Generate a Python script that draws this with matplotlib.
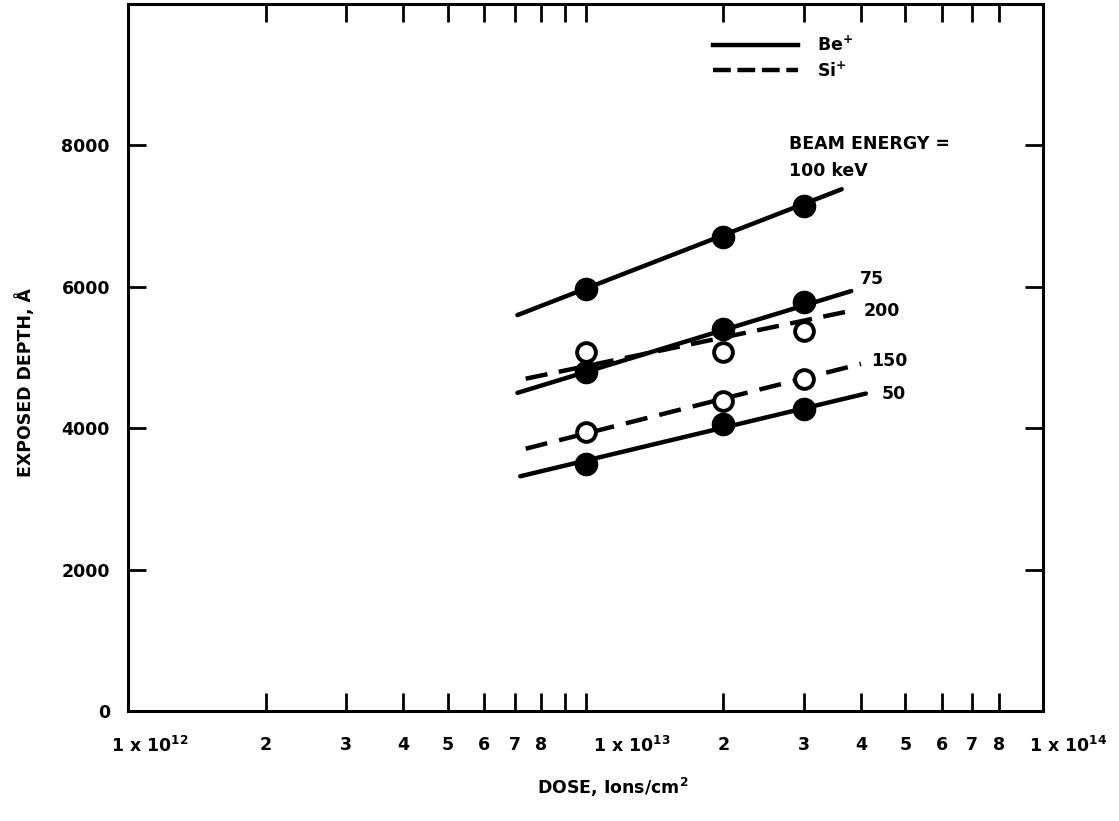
import matplotlib
matplotlib.use('Agg')
from matplotlib import pyplot as plt
from matplotlib.lines import Line2D
from matplotlib.transforms import ScaledTranslation

plt.rcParams['font.family'] = ['DejaVu Sans']
plt.rcParams['font.weight'] = 'bold'
plt.rcParams['mathtext.default'] = 'bf'
plt.rcParams['font.size'] = 12.5

# measured points (dose in ions/cm2, depth in angstrom)
dose_pts = [1e13, 2e13, 3e13]
be_100 = [5970, 6710, 7140]
be_75 = [4790, 5400, 5780]
be_50 = [3500, 4060, 4270]
si_200 = [5080, 5080, 5370]
si_150 = [3950, 4390, 4700]

# fitted lines: [start, end]
fit_100_dose = [7.1e12, 3.63e13]
fit_100_depth = [5600, 7380]
fit_75_dose = [7.1e12, 3.81e13]
fit_75_depth = [4500, 5940]
fit_50_dose = [7.2e12, 4.1e13]
fit_50_depth = [3320, 4490]
fit_200_dose = [7.4e12, 3.8e13]
fit_200_depth = [4700, 5660]
fit_150_dose = [7.4e12, 4.0e13]
fit_150_depth = [3710, 4910]

major_x = [1e12, 1e13, 1e14]
major_lbl = ['1 x 10$^{12}$', '1 x 10$^{13}$', '1 x 10$^{14}$']
minor_x = [2e12, 3e12, 4e12, 5e12, 6e12, 7e12, 8e12, 9e12,
           2e13, 3e13, 4e13, 5e13, 6e13, 7e13, 8e13]
minor_lbl = ['2', '3', '4', '5', '6', '7', '8', '',
             '2', '3', '4', '5', '6', '7', '8']
y_ticks = [0, 2000, 4000, 6000, 8000]

fig = plt.figure(figsize=(11.19, 8.21), dpi=100)
ax = fig.add_axes([128/1119, 110/821, 915/1119, 707/821])
ax.set_xscale('log')

lw = 3.2
dash = (0, (5, 2.6))
ax.plot(fit_100_dose, fit_100_depth, 'k-', lw=lw, solid_capstyle='round')
ax.plot(fit_75_dose, fit_75_depth, 'k-', lw=lw, solid_capstyle='round')
ax.plot(fit_50_dose, fit_50_depth, 'k-', lw=lw, solid_capstyle='round')
ax.plot(fit_200_dose, fit_200_depth, 'k', ls=dash, lw=lw)
ax.plot(fit_150_dose, fit_150_depth, 'k', ls=(0, (5, 2.75)), lw=lw)

for d in [be_100, be_75, be_50]:
    ax.plot(dose_pts, d, 'o', color='k', ms=16, zorder=3)
for d in [si_200, si_150]:
    ax.plot(dose_pts, d, 'o', mfc='white', mec='k', mew=2.8, ms=13.5, zorder=3)

# curve labels next to the line ends
ax.annotate('75', (fit_75_dose[1], fit_75_depth[1]), xytext=(9, 12),
            textcoords='offset pixels', va='center', ha='left')
ax.annotate('200', (fit_200_dose[1], fit_200_depth[1]), xytext=(13, 0),
            textcoords='offset pixels', va='center', ha='left')
ax.annotate('150', (fit_150_dose[1], fit_150_depth[1]), xytext=(10, 3),
            textcoords='offset pixels', va='center', ha='left')
ax.annotate('50', (fit_50_dose[1], fit_50_depth[1]), xytext=(16, 0),
            textcoords='offset pixels', va='center', ha='left')
ax.annotate('BEAM ENERGY =', (fit_100_dose[1], fit_100_depth[1]), xytext=(-53, 45),
            textcoords='offset pixels', va='center', ha='left')
ax.annotate('100 keV', (fit_100_dose[1], fit_100_depth[1]), xytext=(-53, 18),
            textcoords='offset pixels', va='center', ha='left')

handles = [Line2D([], [], color='k', lw=lw),
           Line2D([], [], color='k', lw=lw, ls=(0, (4, 1.5)))]
ax.legend(handles, ['Be$^{+}$', 'Si$^{+}$'], loc='upper left',
          bbox_to_anchor=(0.639, 0.955), frameon=False, handlelength=4.9,
          handletextpad=1.1, labelspacing=0.35, borderpad=0, borderaxespad=0)

ax.set_xlim(1e12, 1e14)
ax.set_ylim(0, 10000)
ax.set_xticks(major_x)
ax.set_xticklabels(major_lbl)
ax.set_xticks(minor_x, minor=True)
ax.set_xticklabels(minor_lbl, minor=True)
ax.set_yticks(y_ticks)
ax.tick_params(which='both', direction='in', top=True, right=True,
               length=13, width=2, pad=13)
ax.tick_params(axis='x', which='both', pad=18)
for lbl, dx in zip(ax.get_xticklabels(), [22, 46, 25]):
    lbl.set_transform(lbl.get_transform() + ScaledTranslation(dx/100, 0, fig.dpi_scale_trans))
for s in ax.spines.values():
    s.set_linewidth(2.2)

fig.text(613/1119, 1 - 787/821, 'DOSE, Ions/cm$^{2}$', ha='center', va='center')
fig.text(25/1119, 1 - 383/821, 'EXPOSED DEPTH, Å', ha='center', va='center', rotation=90)

fig.savefig('out.png', dpi=100)
